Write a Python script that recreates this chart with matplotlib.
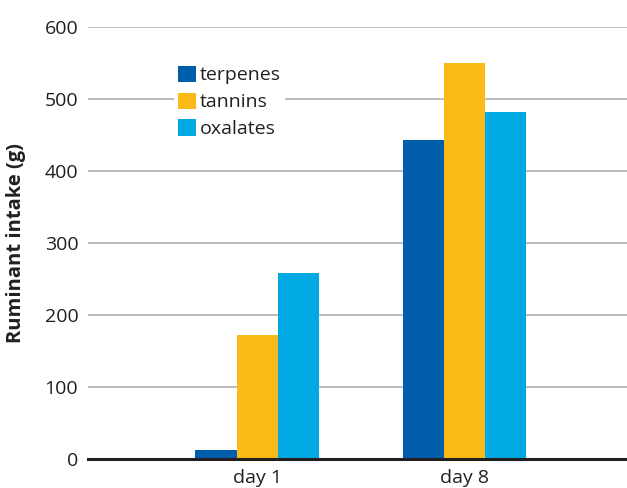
import numpy as np
import matplotlib.pyplot as plt

plt.rcParams['font.family'] = ['Open Sans', 'DejaVu Sans']

days = ['day 1', 'day 8']
series = ['terpenes', 'tannins', 'oxalates']
terpenes = [12, 443]
tannins = [172, 550]
oxalates = [258, 482]
colors = ['#005eab', '#fbbb17', '#00a8e4']

fig = plt.figure(figsize=(6.27, 4.88), dpi=100)
ax = fig.add_axes([88 / 627, 1 - 459 / 488, (627 - 88) / 627, 432 / 488])

x = np.arange(len(days))
width = 0.198
for i, (name, vals) in enumerate(zip(series, [terpenes, tannins, oxalates])):
    ax.bar(x + (i - 1) * width, vals, width, color=colors[i], label=name, zorder=3)

ax.set_ylim(0, 600)
ax.set_xlim(-0.815, 1.783)
ax.set_yticks(range(0, 601, 100))
ax.set_xticks(x)
ax.set_xticklabels(days)
ax.yaxis.grid(True, color='#b8b8b8', linewidth=1.3, zorder=0)
ax.set_axisbelow(True)
for s in ['left', 'right', 'top']:
    ax.spines[s].set_visible(False)
ax.spines['bottom'].set_color('#231f20')
ax.spines['bottom'].set_linewidth(2.2)
ax.spines['bottom'].set_zorder(4)
ax.tick_params(length=0, labelsize=14, colors='#231f20', pad=7)
ax.tick_params(axis='y', pad=7)
ax.set_ylabel('Ruminant intake (g)', fontsize=14.5, fontweight='bold', color='#231f20', labelpad=8)
ax.yaxis.set_label_coords(-0.115, 0.5)

leg = fig.legend(loc='upper left', bbox_to_anchor=(164 / 627, 1 - 52 / 488), frameon=True, fontsize=14,
                 handlelength=0.95, handleheight=0.9, handletextpad=0.2, labelspacing=0.42,
                 borderpad=0.2, fancybox=False, edgecolor='none', framealpha=1)
for t in leg.get_texts():
    t.set_color('#231f20')

fig.savefig('out.png', dpi=100)
